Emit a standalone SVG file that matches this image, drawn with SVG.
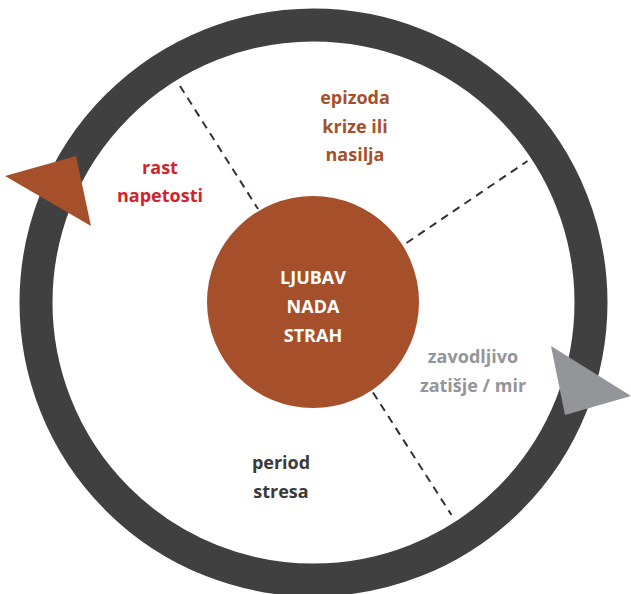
<svg xmlns="http://www.w3.org/2000/svg" width="631" height="594" viewBox="0 0 631 594">
  <style>
    .lbl { font-family: "Open Sans", "Liberation Sans", sans-serif; font-weight: 700; font-size: 18px; text-anchor: middle; }
    .dash { stroke: #333333; stroke-width: 2; stroke-dasharray: 8 6; fill: none; }
    .brown { fill: #A64F2B; }
    .red { fill: #D2232A; }
    .gray { fill: #939598; }
    .dark { fill: #3A3A3A; }
    .white { fill: #FFFFFF; }
  </style>
  <rect width="631" height="594" fill="#FFFFFF"/>
  <g id="ring">
    <circle cx="313.5" cy="302.5" r="277.5" fill="none" stroke="#404040" stroke-width="33"/>
  </g>
  <g id="connectors">
    <line class="dash" x1="180" y1="86" x2="258" y2="209"/>
    <line class="dash" x1="406.5" y1="243" x2="527.5" y2="161"/>
    <line class="dash" x1="373" y1="392.5" x2="451.5" y2="515"/>
  </g>
  <g id="arrow-left">
    <polygon class="brown" points="5,176 76,156 91,226"/>
  </g>
  <g id="arrow-right">
    <polygon class="gray" points="551,346 631,396 565,415"/>
  </g>
  <g id="center">
    <circle class="brown" cx="313" cy="302" r="106"/>
    <text class="lbl white" x="313" y="284">LJUBAV</text>
    <text class="lbl white" x="313" y="313">NADA</text>
    <text class="lbl white" x="313" y="342">STRAH</text>
  </g>
  <g id="epizoda">
    <text class="lbl brown" x="355" y="104">epizoda</text>
    <text class="lbl brown" x="355" y="132.5">krize ili</text>
    <text class="lbl brown" x="355" y="161">nasilja</text>
  </g>
  <g id="rast">
    <text class="lbl red" x="160" y="173.5">rast</text>
    <text class="lbl red" x="160" y="201.5">napetosti</text>
  </g>
  <g id="zatisje">
    <text class="lbl gray" x="473" y="362.5">zavodljivo</text>
    <text class="lbl gray" x="473" y="391.5">zatišje / mir</text>
  </g>
  <g id="period">
    <text class="lbl dark" x="281" y="469">period</text>
    <text class="lbl dark" x="281" y="497.5">stresa</text>
  </g>
</svg>
